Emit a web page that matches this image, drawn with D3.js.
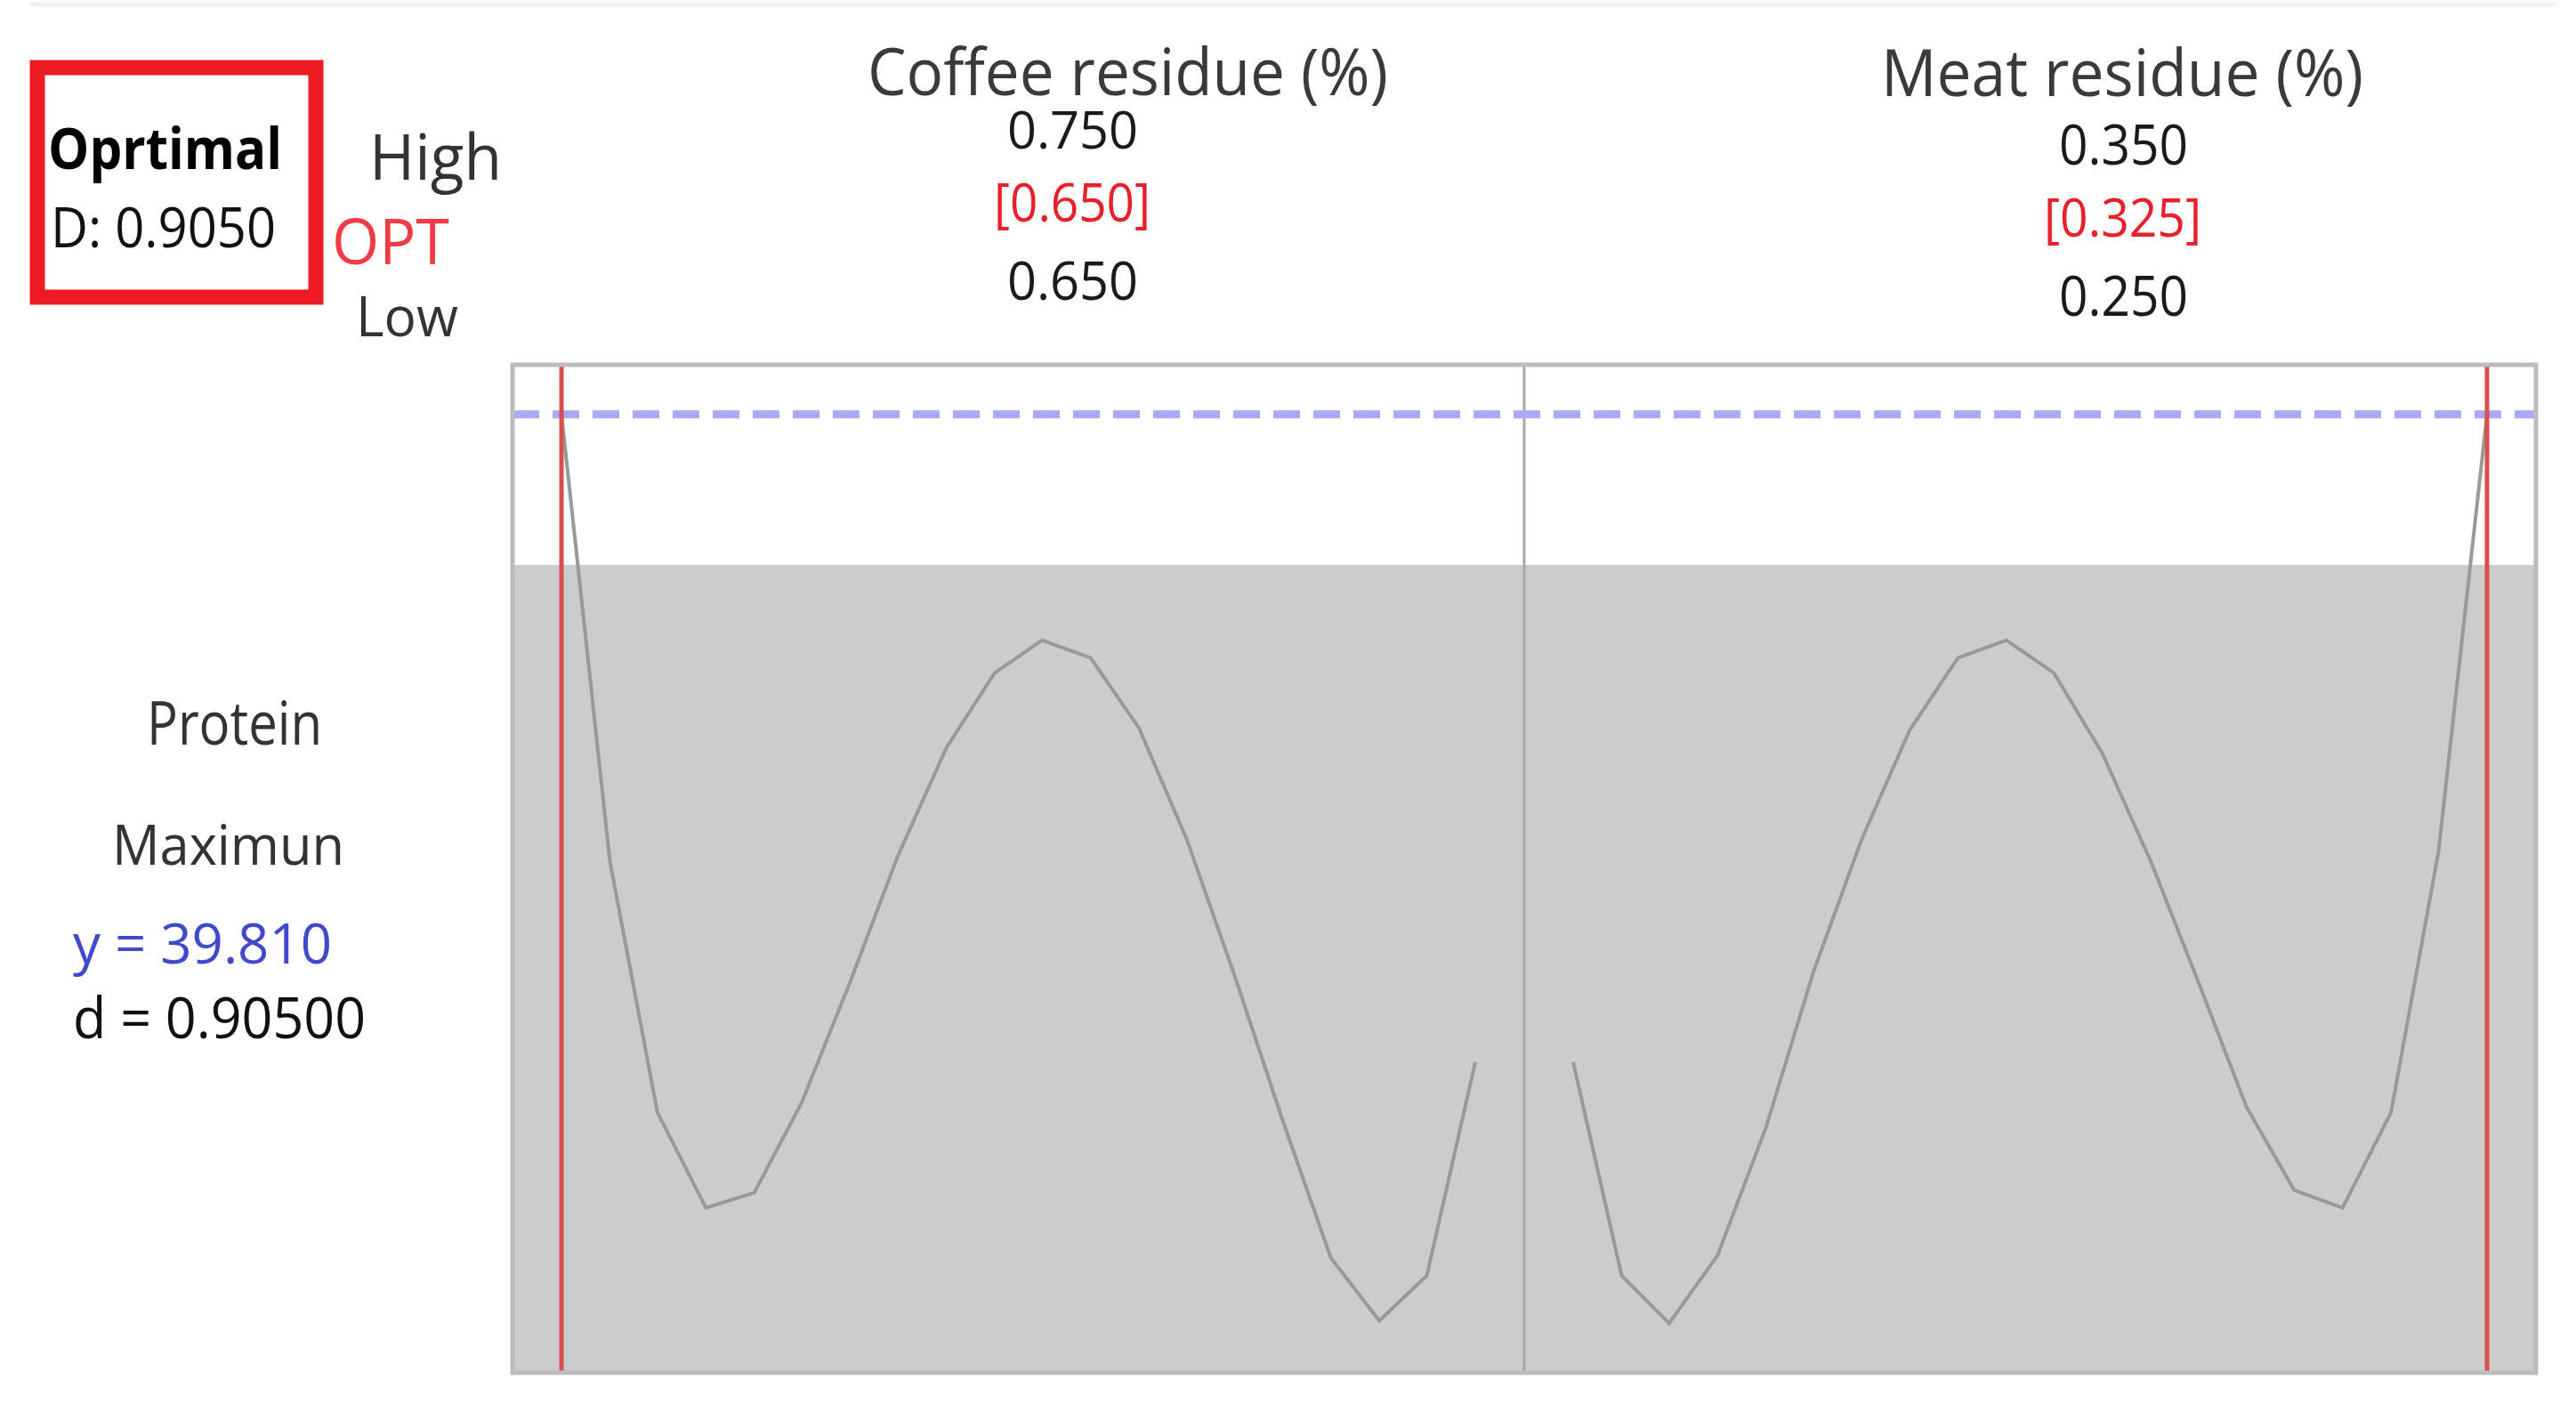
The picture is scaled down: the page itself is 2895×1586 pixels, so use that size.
<!DOCTYPE html>
<html>
<head>
<meta charset="utf-8">
<script src="https://cdn.jsdelivr.net/npm/d3@7"></script>
<style>
  body { margin: 0; background: #fff; }
  svg { display: block; font-family: "Open Sans", "Noto Sans", sans-serif; }
</style>
</head>
<body>
<div id="chart"></div>
<script>
// factor settings
const factorNames = ["Coffee residue (%)", "Meat residue (%)"]
const factorHigh = [0.750, 0.350]
const factorLow = [0.650, 0.250]
const factorOpt = [0.650, 0.325]
// where the red "current setting" lines sit in each panel
const redLineAt = [0.650, 0.350]

// Protein response traces (grid of 20 points per factor)
const coffeeX = [0.6500, 0.6553, 0.6605, 0.6658, 0.6711, 0.6763, 0.6816, 0.6868, 0.6921, 0.6974,
                 0.7026, 0.7079, 0.7132, 0.7184, 0.7237, 0.7289, 0.7342, 0.7395, 0.7447, 0.7500]
const coffeeProtein = [39.81, 38.03, 37.03, 36.65, 36.71, 37.07, 37.55, 38.05, 38.48, 38.78,
                       38.91, 38.84, 38.56, 38.12, 37.57, 37.00, 36.45, 36.20, 36.38, 37.23]
const meatX = [0.2500, 0.2553, 0.2605, 0.2658, 0.2711, 0.2763, 0.2816, 0.2868, 0.2921, 0.2974,
               0.3026, 0.3079, 0.3132, 0.3184, 0.3237, 0.3289, 0.3342, 0.3395, 0.3447, 0.3500]
const meatProtein = [37.23, 36.38, 36.19, 36.46, 36.97, 37.59, 38.12, 38.55, 38.84, 38.91,
                     38.78, 38.46, 38.03, 37.55, 37.05, 36.72, 36.65, 37.03, 38.07, 39.81]

const yPredicted = 39.810
const desirability = 0.90500
const compositeD = 0.9050
const proteinLower = 39.21   // gray band starts below this
const yDomain = [36, 40]

const width = 2895, height = 1586
const plot = { left: 576, right: 2850, top: 412, bottom: 1541 }
const panelPad = 55

const svg = d3.select("#chart").append("svg")
    .attr("width", width)
    .attr("height", height)

// faint line along the top
svg.append("line")
    .attr("x1", 34).attr("x2", 2873)
    .attr("y1", 5).attr("y2", 5)
    .attr("stroke", "#f1f1f1")
    .attr("stroke-width", 5)

const y = d3.scaleLinear().domain(yDomain).range([plot.bottom, plot.top])

const panelW = (plot.right - plot.left) / 2
const panels = [
    { x: coffeeX, v: coffeeProtein },
    { x: meatX, v: meatProtein }
].map((p, i) => {
    const x0 = plot.left + i * panelW
    p.scale = d3.scaleLinear()
        .domain([factorLow[i], factorHigh[i]])
        .range([x0 + panelPad, x0 + panelW - panelPad])
    p.x0 = x0
    return p
})

// white above the limit, gray below
svg.append("rect")
    .attr("x", plot.left).attr("y", plot.top)
    .attr("width", plot.right - plot.left)
    .attr("height", plot.bottom - plot.top)
    .attr("fill", "#fff")
svg.append("rect")
    .attr("x", plot.left).attr("y", y(proteinLower))
    .attr("width", plot.right - plot.left)
    .attr("height", plot.bottom - y(proteinLower))
    .attr("fill", "#cccccc")

// divider between the two factors
svg.append("line")
    .attr("x1", plot.left + panelW).attr("x2", plot.left + panelW)
    .attr("y1", plot.top).attr("y2", plot.bottom)
    .attr("stroke", "#a8a8a8")
    .attr("stroke-width", 3)

// predicted response, dashed
svg.append("line")
    .attr("x1", plot.left).attr("x2", plot.right)
    .attr("y1", y(yPredicted)).attr("y2", y(yPredicted))
    .attr("stroke", "#a9a9f4")
    .attr("stroke-width", 9)
    .attr("stroke-dasharray", "30,15")

// response traces
const line = d3.line()
panels.forEach(p => {
    svg.append("path")
        .datum(p.x.map((xv, k) => [p.scale(xv), y(p.v[k])]))
        .attr("d", line)
        .attr("fill", "none")
        .attr("stroke", "#999")
        .attr("stroke-width", 4)
})

// current setting lines
svg.selectAll("line.current")
    .data(redLineAt)
    .join("line")
    .attr("class", "current")
    .attr("x1", (d, i) => panels[i].scale(d))
    .attr("x2", (d, i) => panels[i].scale(d))
    .attr("y1", plot.top).attr("y2", plot.bottom)
    .attr("stroke", "#d94f4f")
    .attr("stroke-width", 5)

// frame
svg.append("rect")
    .attr("x", plot.left).attr("y", plot.top - 2)
    .attr("width", plot.right - plot.left)
    .attr("height", plot.bottom - plot.top + 4)
    .attr("fill", "none")
    .attr("stroke", "#bcbcbc")
    .attr("stroke-width", 5)

// text, squeezed to the widths seen in the picture
const addText = (t) => {
    svg.append("text")
        .attr("x", t.x).attr("y", t.y)
        .attr("font-size", t.size)
        .attr("font-weight", t.bold ? "bold" : "normal")
        .attr("fill", t.color || "#1a1a1a")
        .attr("textLength", t.w)
        .attr("lengthAdjust", "spacingAndGlyphs")
        .text(t.text)
}

const f3 = d3.format(".3f")
const headerRows = [
    // coffee
    { text: factorNames[0], x: 975, y: 107, w: 585, size: 74, color: "#3a3a3a" },
    { text: f3(factorHigh[0]), x: 1132, y: 167, w: 147, size: 58 },
    { text: `[${f3(factorOpt[0])}]`, x: 1117, y: 249, w: 176, size: 60, color: "#e8202a" },
    { text: f3(factorLow[0]), x: 1132, y: 337, w: 147, size: 61 },
    // meat
    { text: factorNames[1], x: 2114, y: 108, w: 542, size: 74, color: "#3a3a3a" },
    { text: f3(factorHigh[1]), x: 2314, y: 185, w: 145, size: 62 },
    { text: `[${f3(factorOpt[1])}]`, x: 2297, y: 266, w: 177, size: 60, color: "#e8202a" },
    { text: f3(factorLow[1]), x: 2314, y: 355, w: 145, size: 62 }
]
headerRows.forEach(addText)

// optimal box
svg.append("rect")
    .attr("x", 42).attr("y", 76)
    .attr("width", 313).attr("height", 258)
    .attr("fill", "none")
    .attr("stroke", "#ed1c24")
    .attr("stroke-width", 17)

const leftRows = [
    { text: "Oprtimal", x: 54, y: 190, w: 263, size: 64, bold: true, color: "#000" },
    { text: `D: ${compositeD.toFixed(4)}`, x: 57, y: 278, w: 253, size: 62, color: "#111" },
    { text: "High", x: 415, y: 202, w: 149, size: 72, color: "#333" },
    { text: "OPT", x: 373, y: 297, w: 132, size: 72, color: "#ee3b45" },
    { text: "Low", x: 400, y: 378, w: 115, size: 62, color: "#333" },
    { text: "Protein", x: 165, y: 837, w: 197, size: 68, color: "#333" },
    { text: "Maximun", x: 126, y: 972, w: 261, size: 63, color: "#333" },
    { text: `y = ${yPredicted.toFixed(3)}`, x: 82, y: 1083, w: 291, size: 62, color: "#4048cc" },
    { text: `d = ${desirability.toFixed(5)}`, x: 82, y: 1167, w: 329, size: 64, color: "#111" }
]
leftRows.forEach(addText)
</script>
</body>
</html>
